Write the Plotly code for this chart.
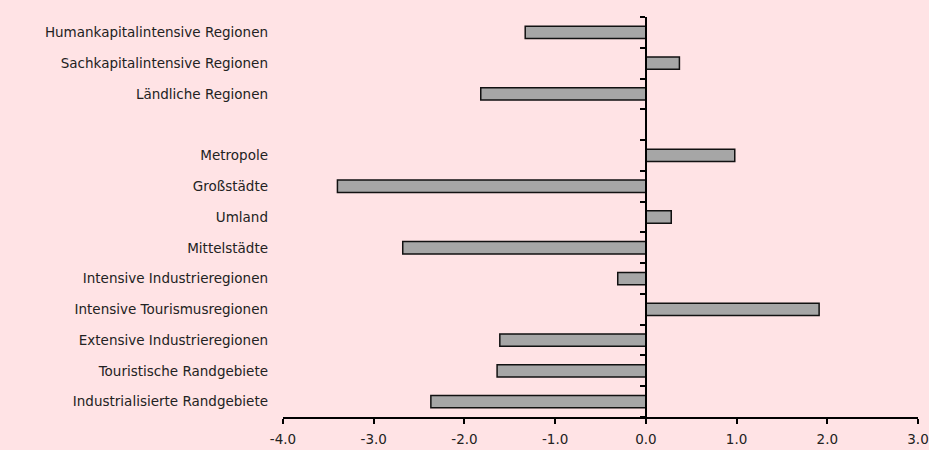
import plotly.graph_objects as go

categories = [
    "Humankapitalintensive Regionen",
    "Sachkapitalintensive Regionen",
    "Ländliche Regionen",
    "",
    "Metropole",
    "Großstädte",
    "Umland",
    "Mittelstädte",
    "Intensive Industrieregionen",
    "Intensive Tourismusregionen",
    "Extensive Industrieregionen",
    "Touristische Randgebiete",
    "Industrialisierte Randgebiete",
]
values = [-1.33, 0.37, -1.82, None, 0.98, -3.40, 0.28, -2.68, -0.31, 1.91, -1.61, -1.64, -2.37]
x_ticks = [-4.0, -3.0, -2.0, -1.0, 0.0, 1.0, 2.0, 3.0]
x_tick_labels = ["-4.0", "-3.0", "-2.0", "-1.0", "0.0", "1.0", "2.0", "3.0"]

n = len(categories)
positions = list(range(n))[::-1]  # top to bottom
bg = "#FFE3E5"
font = dict(family="'DejaVu Sans', sans-serif", size=13.5, color="#222222")

fig = go.Figure()
fig.add_trace(go.Bar(
    x=values, y=positions, orientation="h",
    marker=dict(color="#A6A6A6", line=dict(color="#111111", width=1.5)),
    width=0.4, hoverinfo="skip", showlegend=False,
))
# invisible trace to carry the axis at zero
fig.add_trace(go.Scatter(x=[0], y=[0], yaxis="y2", mode="markers",
                         marker=dict(opacity=0), showlegend=False, hoverinfo="skip"))

boundaries = [p - 0.5 for p in range(n + 1)]
fig.update_layout(
    width=929, height=450,
    margin=dict(l=283, r=11, t=17, b=33),
    paper_bgcolor=bg, plot_bgcolor=bg,
    font=font,
    xaxis=dict(range=[-4, 3], tickvals=x_ticks, ticktext=x_tick_labels,
               showgrid=False, zeroline=False, showline=True, linecolor="black",
               linewidth=2, ticks="outside", ticklen=5, tickwidth=1.5, tickcolor="black",
               ticklabelstandoff=4,
               domain=[0, 1], fixedrange=True, automargin=False),
    yaxis=dict(range=[-0.5, n - 0.5], tickvals=positions, ticktext=categories,
               showgrid=False, zeroline=False, showline=False, ticks="",
               ticklabelstandoff=14, fixedrange=True, automargin=False),
    yaxis2=dict(range=[-0.5, n - 0.5], overlaying="y", anchor="free", position=4 / 7,
                side="left", showline=True, linecolor="black", linewidth=2,
                tickvals=boundaries, ticks="outside", ticklen=5, tickwidth=1.5,
                tickcolor="black", showticklabels=False, showgrid=False, zeroline=False,
                fixedrange=True, automargin=False),
)
fig.write_html(
    "out.html",
    config={"displayModeBar": False},
    post_script="document.body.style.margin='0';document.body.style.overflow='hidden';"
                "document.body.style.background='%s';" % bg,
)
